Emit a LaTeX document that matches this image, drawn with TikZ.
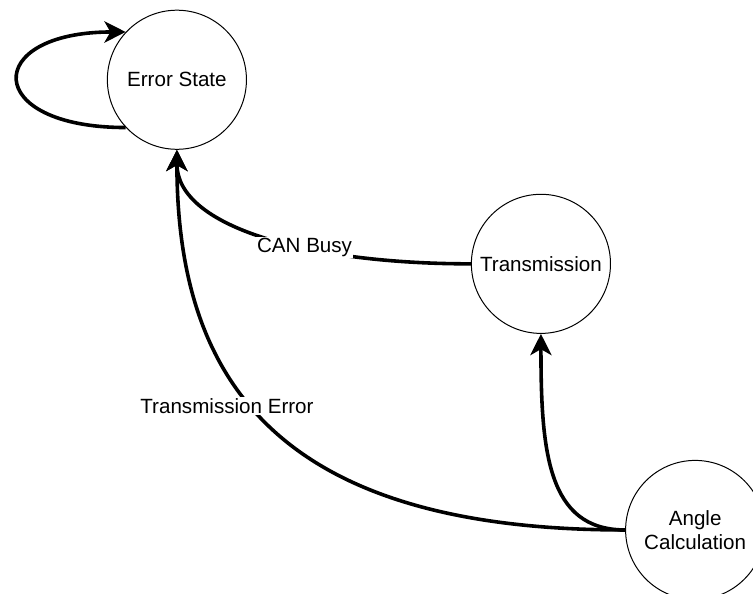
\documentclass[tikz,border=0pt]{standalone}
\usepackage{fontspec}
\setmainfont{Liberation Sans}
\usetikzlibrary{arrows.meta}

\begin{document}
\begin{tikzpicture}[
		state/.style={draw,circle,fill=white,line width=0.75pt,minimum size=3.68cm,inner sep=0pt,align=center,font=\fontsize{15.5}{18}\selectfont},
		move/.style={line width=2.7pt,-{Stealth[length=16pt,width=16pt,inset=4.5pt]}},
		edgelabel/.style={fill=white,inner sep=1pt,font=\fontsize{15.5}{18}\selectfont}]
			\useasboundingbox (0,0) rectangle (19.92,15.71);
			
			\node[state] (err) at (4.68,13.6) {Error State};
			\node[state] (tx) at (14.31,8.73) {Transmission};
			\node[state] (ang) at (18.39,1.69) {Angle\\Calculation};
			
			% stay in the error state
			\draw[move] (err.223) .. controls +(-3.8,0) and +(-3.8,0) .. (err.137);
			
			\draw[move] (tx.west) .. controls +(-4.3,0) and +(0,-2.04) .. node[edgelabel,pos=0.38] (busy) {CAN Busy} (err.south);
			\draw[move] (ang.west) .. controls +(-9.15,0) and +(0,-6.14) .. node[edgelabel,pos=0.55,xshift=-0.66cm] (txerr) {Transmission Error} (err.south);
			\draw[move] (ang.west) .. controls +(-2.06,0) and +(0,-3.1) .. (tx.south);
	 	\end{tikzpicture}
\end{document}
